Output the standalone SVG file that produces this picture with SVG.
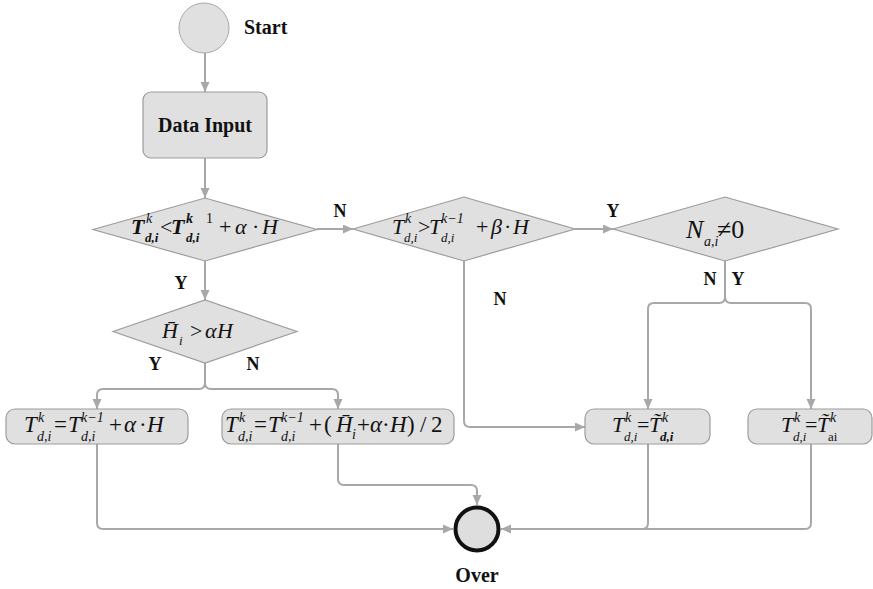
<svg xmlns="http://www.w3.org/2000/svg" width="873" height="589" viewBox="0 0 873 589">
  <defs>
    <marker id="arrow" markerUnits="userSpaceOnUse" markerWidth="11" markerHeight="10" refX="10" refY="4.5" orient="auto">
      <path d="M0,0 L10,4.5 L0,9 z" fill="#a8a8a8"/>
    </marker>
    <style>
      .node { fill: #e0e0e0; stroke: #9c9c9c; stroke-width: 1.2; }
      .end { fill: #dedede; stroke: #111; stroke-width: 4; }
      .conn { fill: none; stroke: #a8a8a8; stroke-width: 2; }
      .lbl { font-family: "Liberation Serif", serif; font-weight: bold; font-size: 20px; fill: #111; }
      .yn { font-family: "Liberation Serif", serif; font-weight: bold; font-size: 18px; fill: #111; text-anchor: middle; }
      .m { font-family: "Liberation Serif", serif; font-style: italic; font-size: 22px; fill: #111; }
      .mb { font-size: 23px; }
      .up { font-style: normal; }
      .bi { font-weight: bold; }
      .sup { font-size: 14px; }
      .sub { font-size: 13px; }
    </style>
  </defs>

  <!-- connectors -->
  <g id="connectors">
    <path class="conn" d="M205 53 V92" marker-end="url(#arrow)"/>
    <path class="conn" d="M205 158 V198" marker-end="url(#arrow)"/>
    <path class="conn" d="M317 229 H353" marker-end="url(#arrow)"/>
    <path class="conn" d="M575 229 H613" marker-end="url(#arrow)"/>
    <path class="conn" d="M205 261 V300" marker-end="url(#arrow)"/>
    <path class="conn" d="M205 363 V383 Q205 389 199 389 H103 Q97 389 97 395 V409" marker-end="url(#arrow)"/>
    <path class="conn" d="M205 363 V383 Q205 389 211 389 H332 Q338 389 338 395 V409" marker-end="url(#arrow)"/>
    <path class="conn" d="M464 261 V421 Q464 427 470 427 H585" marker-end="url(#arrow)"/>
    <path class="conn" d="M725 261 V297 Q725 303 719 303 H654 Q648 303 648 309 V409" marker-end="url(#arrow)"/>
    <path class="conn" d="M725 261 V297 Q725 303 731 303 H805 Q811 303 811 309 V409" marker-end="url(#arrow)"/>
    <path class="conn" d="M97 444 V523 Q97 529 103 529 H453" marker-end="url(#arrow)"/>
    <path class="conn" d="M338 444 V479 Q338 485 344 485 H471 Q477 485 477 491 V505" marker-end="url(#arrow)"/>
    <path class="conn" d="M648 444 V523 Q648 529 642 529 H501" marker-end="url(#arrow)"/>
    <path class="conn" d="M811 444 V523 Q811 529 805 529 H642"/>
  </g>

  <!-- branch labels -->
  <g id="branch-labels">
    <text class="yn" x="340" y="217">N</text>
    <text class="yn" x="613" y="217">Y</text>
    <text class="yn" x="181" y="289">Y</text>
    <text class="yn" x="500" y="305">N</text>
    <text class="yn" x="710" y="285">N</text>
    <text class="yn" x="738" y="285">Y</text>
    <text class="yn" x="155" y="370">Y</text>
    <text class="yn" x="253" y="370">N</text>
  </g>

  <g id="start">
    <circle cx="204" cy="28" r="25" fill="#e0e0e0" stroke="#a8a8a8" stroke-width="1"/>
    <text class="lbl" x="244" y="34">Start</text>
  </g>

  <g id="data-input">
    <rect class="node" x="143" y="92" width="124" height="66" rx="8"/>
    <text class="lbl" x="205" y="132" text-anchor="middle">Data Input</text>
  </g>

  <g id="check-lower">
    <polygon class="node" points="93,229.5 205,198 317,229.5 205,261"/>
    <text class="m" y="234"><tspan x="131" class="bi">T</tspan><tspan x="146" y="223" class="sup">k</tspan><tspan x="145" y="242" class="sub bi">d,i</tspan><tspan x="160" y="234" class="up">&lt;</tspan><tspan x="171" class="bi">T</tspan><tspan x="186" y="223" class="sup bi">k</tspan><tspan x="206" y="223" class="sup up">1</tspan><tspan x="186" y="242" class="sub bi">d,i</tspan><tspan x="219" y="234" class="up">+</tspan><tspan x="235">α</tspan><tspan x="252" class="up">·</tspan><tspan x="262">H</tspan></text>
  </g>

  <g id="check-upper">
    <polygon class="node" points="353,229 464,197 575,229 464,261"/>
    <text class="m" y="234"><tspan x="392">T</tspan><tspan x="405" y="223" class="sup">k</tspan><tspan x="404" y="242" class="sub">d,i</tspan><tspan x="418" y="234" class="up">&gt;</tspan><tspan x="429">T</tspan><tspan x="441" y="223" class="sup">k−1</tspan><tspan x="441" y="242" class="sub">d,i</tspan><tspan x="476" y="234" class="up">+</tspan><tspan x="491">β</tspan><tspan x="504" class="up">·</tspan><tspan x="513">H</tspan></text>
  </g>

  <g id="check-count">
    <polygon class="node" points="613,229 725,197 838,229 725,261"/>
    <text class="m" y="238" style="font-size:26px"><tspan x="686">N</tspan><tspan x="704" y="246" style="font-size:14px">a,i</tspan><tspan x="717" y="238" class="up">≠0</tspan></text>
  </g>

  <g id="check-mean">
    <polygon class="node" points="113,331.5 205,300 297,331.5 205,363"/>
    <text class="m" y="338"><tspan x="162">H&#x304;</tspan><tspan x="179" y="345" class="sub">i</tspan><tspan x="190" y="338" class="up">&gt;</tspan><tspan x="205">α</tspan><tspan x="217">H</tspan></text>
  </g>

  <g id="update-alpha">
    <rect class="node" x="6" y="409" width="182" height="35" rx="9"/>
    <text class="m mb" y="432"><tspan x="24">T</tspan><tspan x="38" y="422" class="sup">k</tspan><tspan x="37" y="441" class="sup">d,i</tspan><tspan x="54" y="432" class="up">=</tspan><tspan x="68">T</tspan><tspan x="81" y="422" class="sup">k−1</tspan><tspan x="81" y="441" class="sup">d,i</tspan><tspan x="109" y="432" class="up">+</tspan><tspan x="124">α</tspan><tspan x="139" class="up">·</tspan><tspan x="147">H</tspan></text>
  </g>

  <g id="update-mean">
    <rect class="node" x="222" y="409" width="232" height="35" rx="9"/>
    <text class="m mb" y="432"><tspan x="225">T</tspan><tspan x="239" y="422" class="sup">k</tspan><tspan x="238" y="441" class="sup">d,i</tspan><tspan x="254" y="432" class="up">=</tspan><tspan x="268">T</tspan><tspan x="281" y="422" class="sup">k−1</tspan><tspan x="281" y="441" class="sup">d,i</tspan><tspan x="309" y="432" class="up">+</tspan><tspan x="324" class="up">(</tspan><tspan x="336">H&#x304;</tspan><tspan x="352" y="439" class="sup">i</tspan><tspan x="357" y="432" class="up">+</tspan><tspan x="370">α</tspan><tspan x="382" class="up">·</tspan><tspan x="390">H</tspan><tspan x="407" class="up">)</tspan><tspan x="420" class="up">/</tspan><tspan x="431" class="up">2</tspan></text>
  </g>

  <g id="update-forecast">
    <rect class="node" x="585" y="409" width="125" height="35" rx="9"/>
    <text class="m" y="432"><tspan x="612">T</tspan><tspan x="625" y="422" class="sup">k</tspan><tspan x="624" y="441" class="sub">d,i</tspan><tspan x="637" y="432" class="up">=</tspan><tspan x="649">T&#x303;</tspan><tspan x="662" y="422" class="sup">k</tspan><tspan x="660" y="441" class="sub bi">d,i</tspan></text>
  </g>

  <g id="update-actual">
    <rect class="node" x="748" y="409" width="124" height="35" rx="9"/>
    <text class="m" y="432"><tspan x="781">T</tspan><tspan x="794" y="422" class="sup">k</tspan><tspan x="793" y="441" class="sub">d,i</tspan><tspan x="805" y="432" class="up">=</tspan><tspan x="817">T&#x303;</tspan><tspan x="830" y="422" class="sup">k</tspan><tspan x="828" y="441" class="sub up">ai</tspan></text>
  </g>

  <g id="over">
    <circle class="end" cx="477" cy="529" r="21.5"/>
    <text class="lbl" x="477" y="582" text-anchor="middle">Over</text>
  </g>
</svg>
